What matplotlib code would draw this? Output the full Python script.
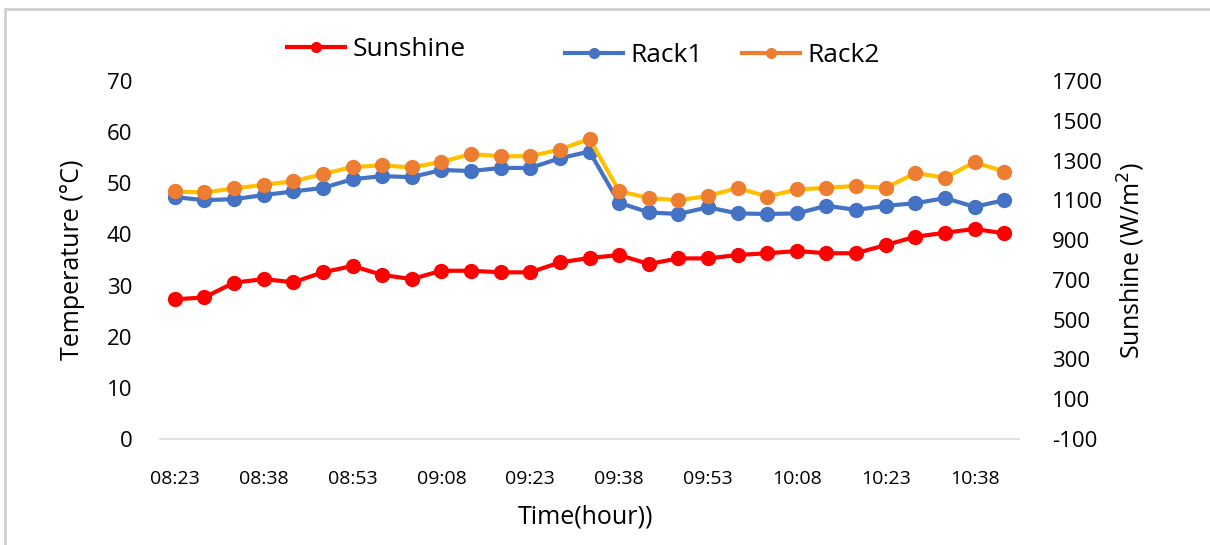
import matplotlib
matplotlib.use("Agg")
import matplotlib.pyplot as plt
from matplotlib.lines import Line2D
from matplotlib.patches import Rectangle

times = ["08:23", "08:28", "08:33", "08:38", "08:43", "08:48", "08:53", "08:58", "09:03",
         "09:08", "09:13", "09:18", "09:23", "09:28", "09:33", "09:38", "09:43", "09:48",
         "09:53", "09:58", "10:03", "10:08", "10:13", "10:18", "10:23", "10:28", "10:33",
         "10:38", "10:43"]
sunshine = [602, 612, 686, 704, 688, 738, 770, 725, 704, 746, 746, 738, 738, 788, 810,
            825, 780, 808, 808, 825, 834, 845, 834, 834, 875, 917, 937, 956, 934]
rack1 = [47.3, 46.7, 46.9, 47.7, 48.4, 49.1, 50.8, 51.4, 51.2, 52.6, 52.4, 53.0, 53.0,
         54.9, 56.2, 46.2, 44.3, 44.0, 45.3, 44.1, 44.0, 44.1, 45.6, 44.8, 45.6, 46.1,
         47.1, 45.4, 46.7]
rack2 = [48.4, 48.2, 49.0, 49.7, 50.4, 51.8, 53.2, 53.5, 53.1, 54.2, 55.7, 55.3, 55.3,
         56.6, 58.7, 48.5, 47.1, 46.7, 47.5, 49.1, 47.4, 48.8, 49.1, 49.5, 49.1, 52.0,
         51.1, 54.1, 52.3]
left_ticks = [0, 10, 20, 30, 40, 50, 60, 70]
right_ticks = [-100, 100, 300, 500, 700, 900, 1100, 1300, 1500, 1700]

FONT = ["Open Sans", "DejaVu Sans"]
plt.rcParams["font.family"] = FONT
plt.rcParams["axes.unicode_minus"] = False

W, H = 1210, 545
fig = plt.figure(figsize=(12.1, 5.45), dpi=100)
ax = fig.add_axes([160/W, 1-439/H, (1019-160)/W, (439-81)/H])
ax2 = ax.twinx()

x = list(range(len(times)))
ms = 10
lw = 3
ax.plot(x, rack1, color="#4472C4", lw=lw, marker="o", ms=ms, zorder=3)
ax.plot(x, rack2, color="#FFC000", lw=lw, marker="o", ms=ms,
        markerfacecolor="#ED7D31", markeredgecolor="#ED7D31", zorder=4)
ax2.plot(x, sunshine, color="#FF0000", lw=lw, marker="o", ms=ms, zorder=3)

ax.set_xlim(-0.5, len(times) - 0.5)
ax.set_ylim(0, 70)
ax2.set_ylim(-100, 1700)
ax.set_yticks(left_ticks)
ax2.set_yticks(right_ticks)
ax.set_xticks(x[::3])
ax.set_xticklabels(times[::3])

for a in (ax, ax2):
    for s in a.spines.values():
        s.set_visible(False)
ax.spines["bottom"].set_visible(True)
ax.spines["bottom"].set_color("#D9D9D9")
ax.spines["bottom"].set_linewidth(1.2)
ax.tick_params(axis="both", length=0)
ax2.tick_params(axis="both", length=0)
ax.tick_params(axis="y", labelsize=16, pad=20)
ax2.tick_params(axis="y", labelsize=16, pad=24)
ax.tick_params(axis="x", labelsize=14, pad=22)

AW = 1019 - 160
AH = 439 - 81
ax.set_ylabel("Temperature (°C)", fontsize=18)
ax.yaxis.set_label_coords((85 - 160) / AW, 0.5)
ax2.set_ylabel("Sunshine (W/m$^2$)", fontsize=18)
ax2.yaxis.set_label_coords((1116 - 160) / AW, 0.5)
ax.set_xlabel("Time(hour))", fontsize=18)
ax.xaxis.set_label_coords((586 - 160) / AW, -(505 - 439) / AH)

h_sun = Line2D([], [], color="#FF0000", lw=lw, marker="o", ms=7)
h_r1 = Line2D([], [], color="#4472C4", lw=lw, marker="o", ms=7)
h_r2 = Line2D([], [], color="#ED7D31", lw=lw, marker="o", ms=7)
leg1 = fig.legend([h_sun], ["Sunshine"], loc="center left",
                  bbox_to_anchor=(287/W, 1-50/H), frameon=False, fontsize=19,
                  handlelength=2.2, handletextpad=0.27, borderaxespad=0, borderpad=0)
leg2 = fig.legend([h_r1, h_r2], ["Rack1", "Rack2"], loc="center left",
                  bbox_to_anchor=(565/W, 1-56/H), frameon=False, fontsize=19,
                  handlelength=2.2, handletextpad=0.27, ncol=2, columnspacing=1.5,
                  borderaxespad=0, borderpad=0)

fig.add_artist(Rectangle((5/W, -0.1), 1.2, 1 - 9/H + 0.1, transform=fig.transFigure,
                         fill=False, edgecolor="#D0D0D0", lw=2))

fig.savefig("out.png", dpi=100)
